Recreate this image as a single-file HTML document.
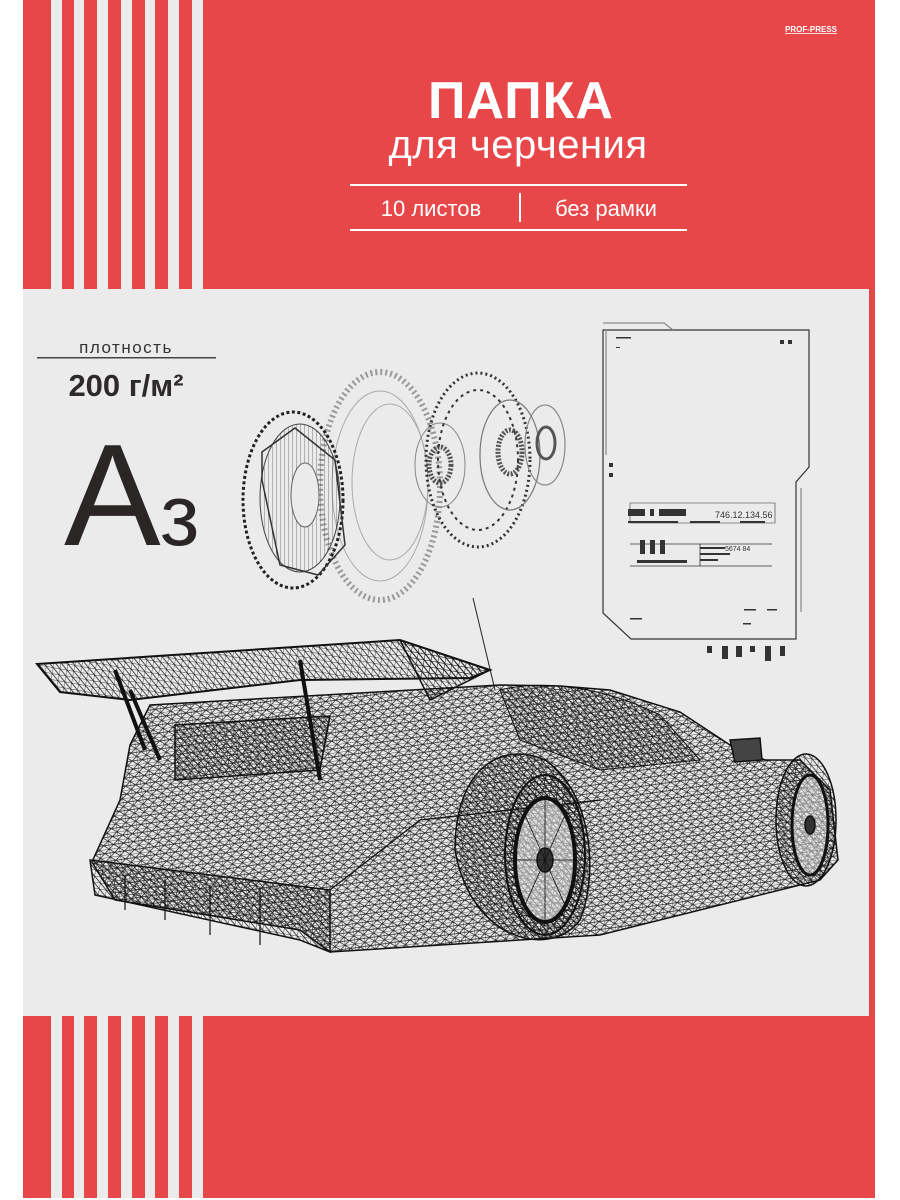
<!DOCTYPE html>
<html><head><meta charset="utf-8"><style>
html,body{margin:0;padding:0;background:#fff;width:900px;height:1200px;overflow:hidden}
svg{display:block}
</style></head><body>
<svg width="900" height="1200" viewBox="0 0 900 1200" xmlns="http://www.w3.org/2000/svg" font-family="Liberation Sans, DejaVu Sans, sans-serif">
<defs>
<pattern id="mesh" width="10" height="8" patternUnits="userSpaceOnUse" patternTransform="rotate(-8)">
<path d="M0 0H10M0 4H10M0 0V8M0 0L10 8M10 0L0 8" stroke="#222" stroke-width="0.7" fill="none"/>
</pattern>
<pattern id="mesh2" width="7" height="6" patternUnits="userSpaceOnUse" patternTransform="rotate(10)">
<path d="M0 0H7M0 0V6M0 0L7 6" stroke="#111" stroke-width="0.7" fill="none"/>
</pattern>
<pattern id="spokes" width="4" height="4" patternUnits="userSpaceOnUse">
<path d="M0 0V4" stroke="#444" stroke-width="0.7"/>
</pattern>
</defs>
<rect width="900" height="1200" fill="#fff"/>
<rect x="23" y="0" width="852" height="1198" fill="#e84749"/>
<rect x="23" y="289" width="846" height="727" fill="#ebebeb"/>
<g fill="#ebebeb">
<rect x="51" y="0" width="11" height="289"/><rect x="74" y="0" width="10" height="289"/>
<rect x="97" y="0" width="11" height="289"/><rect x="121" y="0" width="11" height="289"/>
<rect x="145" y="0" width="10" height="289"/><rect x="168" y="0" width="11" height="289"/>
<rect x="192" y="0" width="11" height="289"/>
<rect x="51" y="1016" width="11" height="182"/><rect x="74" y="1016" width="10" height="182"/>
<rect x="97" y="1016" width="11" height="182"/><rect x="121" y="1016" width="11" height="182"/>
<rect x="145" y="1016" width="10" height="182"/><rect x="168" y="1016" width="11" height="182"/>
<rect x="192" y="1016" width="11" height="182"/>
</g>
<text x="811" y="32" font-size="8" font-weight="bold" fill="#fff" text-anchor="middle" text-decoration="underline">PROF-PRESS</text>
<text x="521" y="118" font-size="52" font-weight="bold" fill="#fff" text-anchor="middle" letter-spacing="1">ПАПКА</text>
<text x="518" y="158" font-size="40" fill="#fff" text-anchor="middle" letter-spacing="0.5">для черчения</text>
<rect x="350" y="184" width="337" height="2" fill="#fff"/>
<rect x="350" y="229" width="337" height="2" fill="#fff"/>
<rect x="519" y="193" width="2" height="29" fill="#fff"/>
<text x="431" y="216" font-size="22" fill="#fff" text-anchor="middle">10 листов</text>
<text x="606" y="216" font-size="22" fill="#fff" text-anchor="middle">без рамки</text>
<text x="126" y="353" font-size="17" fill="#333" text-anchor="middle" letter-spacing="1.5">плотность</text>
<rect x="37" y="357" width="179" height="1.5" fill="#444"/>
<text x="126" y="396" font-size="31" font-weight="bold" fill="#2e2a2a" text-anchor="middle">200 г/м²</text>
<text x="64" y="545" font-size="145" fill="#2a2626">А</text>
<text x="160" y="545" font-size="86" fill="#2a2626">з</text>
<g fill="none">
<ellipse cx="380" cy="486" rx="60" ry="114" stroke="#999" stroke-width="6" stroke-dasharray="2 3"/>
<ellipse cx="380" cy="486" rx="48" ry="95" stroke="#aaa" stroke-width="1"/>
<ellipse cx="390" cy="482" rx="38" ry="78" stroke="#aaa" stroke-width="1"/>
<ellipse cx="440" cy="465" rx="25" ry="42" stroke="#888" stroke-width="1"/>
<ellipse cx="440" cy="465" rx="11" ry="18" stroke="#555" stroke-width="5" stroke-dasharray="2 1.5"/>
<ellipse cx="293" cy="500" rx="50" ry="88" stroke="#222" stroke-width="3" stroke-dasharray="3 2.5"/>
<ellipse cx="300" cy="498" rx="40" ry="74" fill="url(#spokes)" stroke="#444" stroke-width="1"/>
<ellipse cx="305" cy="495" rx="14" ry="32" fill="#ebebeb" stroke="#666"/>
<polygon points="262,452 295,428 335,460 345,545 318,575 280,565 262,480" stroke="#333" stroke-width="1.5"/>
<ellipse cx="478" cy="460" rx="52" ry="87" stroke="#333" stroke-width="3" stroke-dasharray="2 3"/>
<ellipse cx="478" cy="460" rx="40" ry="70" stroke="#333" stroke-width="2" stroke-dasharray="3 4"/>
<ellipse cx="510" cy="455" rx="30" ry="55" stroke="#777" stroke-width="1.2"/>
<ellipse cx="510" cy="452" rx="12" ry="22" stroke="#555" stroke-width="5" stroke-dasharray="2 1.5"/>
<ellipse cx="545" cy="445" rx="20" ry="40" stroke="#888" stroke-width="1.2"/>
<ellipse cx="546" cy="443" rx="9" ry="16" stroke="#555" stroke-width="3"/>
</g>
<g fill="none" stroke="#333" stroke-width="1.2">
<path d="M603 330H809V467L796 482V639H631L603 613Z"/>
<path d="M603 323H664L673 330" stroke="#888"/>
<path d="M606 330V455" stroke="#888"/>
<path d="M801 488V612" stroke="#888"/>
<path d="M630 544H772M630 566H772M700 544V566" stroke-width="0.8"/>
<path d="M630 503H775V523H630Z" stroke-width="0.6"/>
</g>
<g fill="#333">
<rect x="780" y="340" width="4" height="4"/><rect x="788" y="340" width="4" height="4"/>
<rect x="609" y="463" width="4" height="4"/><rect x="609" y="473" width="4" height="4"/>
<rect x="616" y="337" width="15" height="1.5"/><rect x="616" y="347" width="4" height="1"/>
<rect x="628" y="509" width="17" height="7"/><rect x="650" y="509" width="4" height="7"/><rect x="659" y="509" width="27" height="7"/>
<rect x="628" y="521" width="50" height="2"/><rect x="690" y="521" width="30" height="2"/><rect x="740" y="521" width="25" height="2"/>
<rect x="640" y="540" width="5" height="14"/><rect x="650" y="540" width="5" height="14"/><rect x="660" y="540" width="5" height="14"/>
<rect x="637" y="560" width="50" height="3"/>
<rect x="700" y="547" width="25" height="2"/><rect x="700" y="553" width="30" height="2"/><rect x="700" y="559" width="18" height="2"/>
<rect x="707" y="646" width="5" height="7"/><rect x="722" y="646" width="6" height="13"/><rect x="736" y="646" width="6" height="11"/>
<rect x="750" y="646" width="5" height="6"/><rect x="765" y="646" width="6" height="15"/><rect x="780" y="646" width="5" height="10"/>
<rect x="744" y="609" width="12" height="1.5"/><rect x="767" y="609" width="10" height="1.5"/><rect x="743" y="623" width="8" height="1.5"/>
<rect x="630" y="618" width="12" height="1.5"/>
</g>
<text x="715" y="518" font-size="9" fill="#333">746.12.134.56</text>
<text x="725" y="551" font-size="7" fill="#333">5674 84</text>
<line x1="473" y1="598" x2="495" y2="690" stroke="#222" stroke-width="1"/>
<g stroke="#111" stroke-width="1.5">
<path d="M150 705L500 685L560 686L610 690L680 712L730 745L765 760L800 760L830 790L838 860L820 880L600 935L330 952L300 930L115 900L92 862L120 800L130 745Z" fill="url(#mesh)"/>
<path d="M500 690C540 680 600 685 660 715L700 760L600 770L520 740Z" fill="url(#mesh2)" stroke-width="1"/>
<path d="M37 664L400 640L490 670L470 678L300 680L130 700L60 692Z" fill="url(#mesh2)" stroke-width="2"/>
<path d="M400 640L430 700L490 670" fill="url(#mesh2)"/>
<path d="M115 670L145 750M300 660L320 780M130 690L160 760" fill="none" stroke-width="4"/>
<path d="M90 860L330 890L330 952L300 940L95 895Z" fill="url(#mesh2)"/>
<path d="M125 875V910M165 880V920M210 885V935M260 888V945" fill="none" stroke-width="1.2"/>
<path d="M330 890L420 820L600 800" fill="none" stroke-width="1.2"/>
<path d="M455 850C455 770 500 740 545 760C590 790 600 870 580 920C550 960 470 940 455 850Z" fill="url(#mesh2)"/>
<ellipse cx="545" cy="855" rx="40" ry="80" fill="url(#mesh2)" stroke-width="2"/>
<ellipse cx="545" cy="860" rx="30" ry="62" fill="#ebebeb" fill-opacity="0.6" stroke-width="4"/>
<ellipse cx="545" cy="860" rx="8" ry="12" fill="#333"/>
<path d="M545 798V922M515 860H575M525 815L565 905M565 815L525 905" stroke-width="0.8"/>
<ellipse cx="806" cy="820" rx="30" ry="66" fill="url(#mesh2)" stroke-width="1.5"/>
<ellipse cx="810" cy="825" rx="18" ry="50" fill="#ebebeb" fill-opacity="0.5" stroke-width="3"/>
<ellipse cx="810" cy="825" rx="5" ry="9" fill="#333"/>
<path d="M730 740L760 738L762 760L735 762Z" fill="#444"/>
<path d="M175 725L330 716L320 770L175 780Z" fill="url(#mesh2)"/>
</g>
</svg>
</body></html>
